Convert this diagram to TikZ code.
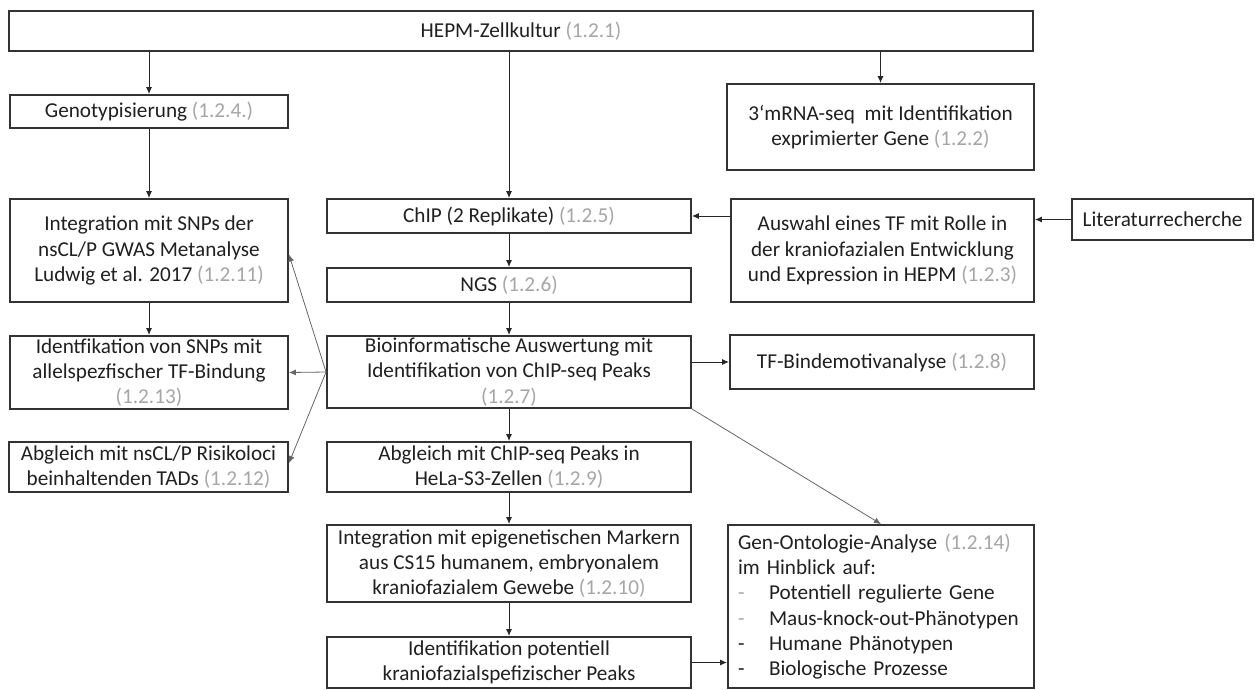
\documentclass[tikz,border=0pt]{standalone}
\usepackage{fontspec}
\setmainfont{Carlito}
\usetikzlibrary{arrows.meta,calc}
\definecolor{txt}{HTML}{202020}
\definecolor{num}{HTML}{A6A6A6}
\definecolor{frame}{HTML}{333333}
\newcommand{\nr}[1]{\textcolor{num}{#1}}
\newcommand{\gdash}{\makebox[31pt][l]{\textcolor{num}{-}}}
\newcommand{\bdash}{\makebox[31pt][l]{-}}
\begin{document}
\begin{tikzpicture}[x=1pt,y=-1pt,
 box/.style={draw=frame,line width=1.9pt,rectangle,inner sep=0pt,align=center,text=txt,font=\fontsize{21.2}{25.2}\selectfont},
 arr/.style={draw=black!85,line width=1pt,-{Latex[length=7pt,width=6pt]}},
 fan/.style={draw=black!60,line width=0.8pt,-{Latex[length=7pt,width=6pt]}}]
\fill[white] (0,0) rectangle (1255,689);
\useasboundingbox (0,0) rectangle (1255,689);

% top
\node[box,minimum width=1024pt,minimum height=40pt] (top) at (521,31) {HEPM-Zellkultur \nr{(1.2.1)}};

% left column
\node[box,minimum width=278pt,minimum height=33pt] (geno) at (149,111.5) {Genotypisierung \nr{(1.2.4.)}};
\node[box,minimum width=278pt,minimum height=103pt] (integ) at (149,250.5) {Integration mit SNPs der\\nsCL/P GWAS Metanalyse\\Ludwig et al. 2017 \nr{(1.2.11)}};
\node[box,minimum width=278pt,minimum height=73pt] (ident) at (149,372.5) {Identfikation von SNPs mit\\allelspezfischer TF-Bindung\\\nr{(1.2.13)}};
\node[box,minimum width=279pt,minimum height=50pt] (nscl) at (148.5,467) {Abgleich mit nsCL/P Risikoloci\\beinhaltenden TADs \nr{(1.2.12)}};

% middle column
\node[box,minimum width=364pt,minimum height=34pt] (chip) at (509,216) {ChIP (2 Replikate) \nr{(1.2.5)}};
\node[box,minimum width=364pt,minimum height=34pt] (ngs) at (509,285) {NGS \nr{(1.2.6)}};
\node[box,minimum width=364pt,minimum height=72pt] (bioinf) at (509,372) {Bioinformatische Auswertung mit\\Identifikation von ChIP-seq Peaks\\\nr{(1.2.7)}};
\node[box,minimum width=364pt,minimum height=50pt] (hela) at (509,467) {Abgleich mit ChIP-seq Peaks in\\HeLa-S3-Zellen \nr{(1.2.9)}};
\node[box,minimum width=364pt,minimum height=77pt] (epi) at (509,563.5) {Integration mit epigenetischen Markern\\aus CS15 humanem, embryonalem\\kraniofazialem Gewebe \nr{(1.2.10)}};
\node[box,minimum width=364pt,minimum height=51pt] (idpk) at (509,662.5) {Identifikation potentiell\\kraniofazialspefizischer Peaks};

% right column
\node[box,minimum width=307pt,minimum height=86pt] (mrna) at (880.5,127) {3‘mRNA-seq~ mit Identifikation\\exprimierter Gene \nr{(1.2.2)}};
\node[box,minimum width=303pt,minimum height=103pt] (ausw) at (882.5,250.5) {Auswahl eines TF mit Rolle in\\der kraniofazialen Entwicklung\\und Expression in HEPM \nr{(1.2.3)}};
\node[box,minimum width=181pt,minimum height=41pt] (lit) at (1162.5,219.5) {Literaturrecherche};
\node[box,minimum width=304pt,minimum height=54pt] (tfb) at (882,362) {TF-Bindemotivanalyse \nr{(1.2.8)}};
\node[box,minimum width=306pt,minimum height=163pt,text width=286pt,align=left] (go) at (881,606.5) {Gen-Ontologie-Analyse \nr{(1.2.14)}\\im Hinblick auf:\\\gdash Potentiell regulierte Gene\\\gdash Maus-knock-out-Phänotypen\\\bdash Humane Phänotypen\\\bdash Biologische Prozesse};

% connectors
\draw[arr] (top.south -| geno) -- (geno.north);
\draw[arr] (top.south -| chip) -- (chip.north);
\draw[arr] (top.south -| mrna) -- (mrna.north);
\draw[arr] (geno) -- (integ);
\draw[arr] (integ) -- (ident);
\draw[arr] (chip) -- (ngs);
\draw[arr] (ngs) -- (bioinf);
\draw[arr] (bioinf) -- (hela);
\draw[arr] (hela) -- (epi);
\draw[arr] (epi) -- (idpk);
\draw[arr] (lit.west) -- (lit.west -| ausw.east);
\draw[arr] (ausw.west |- chip.east) -- (chip.east);
\draw[arr] (bioinf.east |- tfb.west) -- (tfb.west);
\draw[arr] (idpk.east) -- (idpk.east -| go.west);
\draw[fan] (bioinf.west) -- ([yshift=-4pt]integ.east);
\draw[fan] (bioinf.west) -- (ident.east);
\draw[fan] (bioinf.west) -- ([yshift=4pt]nscl.east);
\draw[fan] (bioinf.south east) -- (go.north);
\end{tikzpicture}
\end{document}
